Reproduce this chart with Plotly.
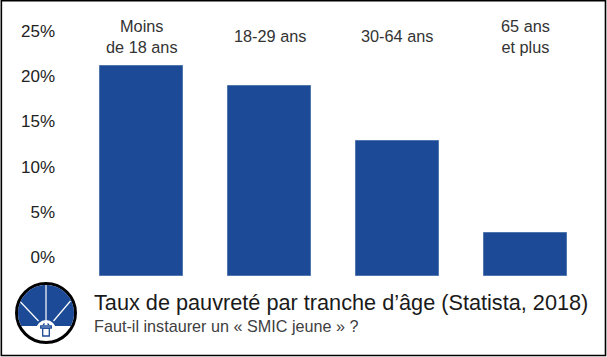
import math
import plotly.graph_objects as go

categories = ["Moins<br>de 18 ans", "18-29 ans", "30-64 ans", "65 ans<br>et plus"]
poverty_rates = [21.1, 18.9, 12.8, 2.7]
bar_base = -2.1
tick_values = [0, 5, 10, 15, 20, 25]
tick_labels = ["0%", "5%", "10%", "15%", "20%", "25%"]
title_text = "Taux de pauvreté par tranche d’âge (Statista, 2018)"
subtitle_text = "Faut-il instaurer un « SMIC jeune » ?"

W, H = 607, 357
ML, MR, MT, MB = 55.5, 4, 4, 60
BLUE = "#1c4a96"
PW, PH = W - ML - MR, H - MT - MB

def px(x):
    return (x - ML) / PW

def py(y):
    return 1 - (y - MT) / PH

ymax = (257 - MT) / 9.04
ymin = (257 - (H - MB)) / 9.04
xmin = (ML - 141.3) / 128
xmax = (W - MR - 141.3) / 128

fig = go.Figure(go.Bar(
    x=[0, 1, 2, 3],
    y=[v - bar_base for v in poverty_rates],
    base=bar_base,
    width=0.65,
    marker=dict(color=BLUE, line=dict(color="#4f76ad", width=1)),
    hoverinfo="skip",
))

annotations = [
    dict(x=i, y=py(36.5), xref="x", yref="paper", text=c, showarrow=False,
         xanchor="center", yanchor="middle",
         font=dict(family="Liberation Sans", size=16.3, color="#333333"))
    for i, c in enumerate(categories)
]
annotations += [
    dict(x=px(91.5), y=py(302), xref="paper", yref="paper", text=title_text, showarrow=False,
         xanchor="left", yanchor="middle",
         font=dict(family="Liberation Sans", size=21.7, color="#1a1a1a")),
    dict(x=px(91.5), y=py(326), xref="paper", yref="paper", text=subtitle_text, showarrow=False,
         xanchor="left", yanchor="middle",
         font=dict(family="Liberation Sans", size=16.2, color="#404040")),
]

CX, CY, R = 45.5, 313, 29

def shape_line(x0, y0, x1, y1, color="white", width=1.2):
    return dict(type="line", xref="paper", yref="paper", x0=px(x0), y0=py(y0), x1=px(x1), y1=py(y1),
                line=dict(color=color, width=width), layer="above")

def oval(cx, cy, r, fill, line, width):
    return dict(type="circle", xref="paper", yref="paper", x0=px(cx - r), x1=px(cx + r),
                y0=py(cy + r), y1=py(cy - r), fillcolor=fill,
                line=dict(color=line, width=width), layer="above")

def box(x0, y0, x1, y1):
    return dict(type="rect", xref="paper", yref="paper", x0=px(x0), x1=px(x1), y0=py(y1), y1=py(y0),
                fillcolor="white", line=dict(color=BLUE, width=1.3), layer="above")

chord_y = 326
a0 = math.asin((chord_y - CY) / (R - 1))
pts = []
n = 48
for k in range(n + 1):
    t = (math.pi - a0) + (math.pi + 2 * a0) * k / n
    pts.append((CX + (R - 1) * math.cos(t), CY + (R - 1) * math.sin(t)))
path = "M" + " L".join(f"{px(x):.5f},{py(y):.5f}" for x, y in pts) + " Z"

shapes = [
    dict(type="rect", xref="paper", yref="paper", x0=px(0.8), x1=px(W - 1.5), y0=py(H - 1.5), y1=py(0.8),
         line=dict(color="#000000", width=1.6), fillcolor="rgba(0,0,0,0)", layer="above"),
    oval(CX, CY, R + 0.5, "white", "#000000", 3),
    dict(type="path", xref="paper", yref="paper", path=path, fillcolor=BLUE,
         line=dict(color=BLUE, width=0), layer="above"),
    shape_line(45.5, 285, 45.5, 321),
    shape_line(20, 302, 38, 321),
    shape_line(70, 301, 53, 321),
    oval(45.5, 330, 10, "white", "white", 0),
    box(42.2, 328, 48.8, 336),
    box(40.2, 326, 50.8, 328),
    shape_line(42.5, 325, 44, 323.5, BLUE, 1.3),
    shape_line(48.5, 325, 47, 323.5, BLUE, 1.3),
]

fig.update_layout(
    width=W, height=H,
    margin=dict(l=ML, r=MR, t=MT, b=MB, pad=0),
    paper_bgcolor="white", plot_bgcolor="white",
    showlegend=False, bargap=0,
    xaxis=dict(range=[xmin, xmax], showticklabels=False, showgrid=False, zeroline=False,
               showline=False, ticks="", fixedrange=True),
    yaxis=dict(range=[ymin, ymax], tickvals=tick_values, ticktext=tick_labels, showgrid=False,
               zeroline=False, showline=False, ticks="", ticklen=0, fixedrange=True,
               tickfont=dict(family="Liberation Sans", size=17, color="#222222")),
    annotations=annotations, shapes=shapes,
)
fig.write_html("out.html", config=dict(displayModeBar=False),
               post_script="document.body.style.margin='0';document.body.style.overflow='hidden';")
